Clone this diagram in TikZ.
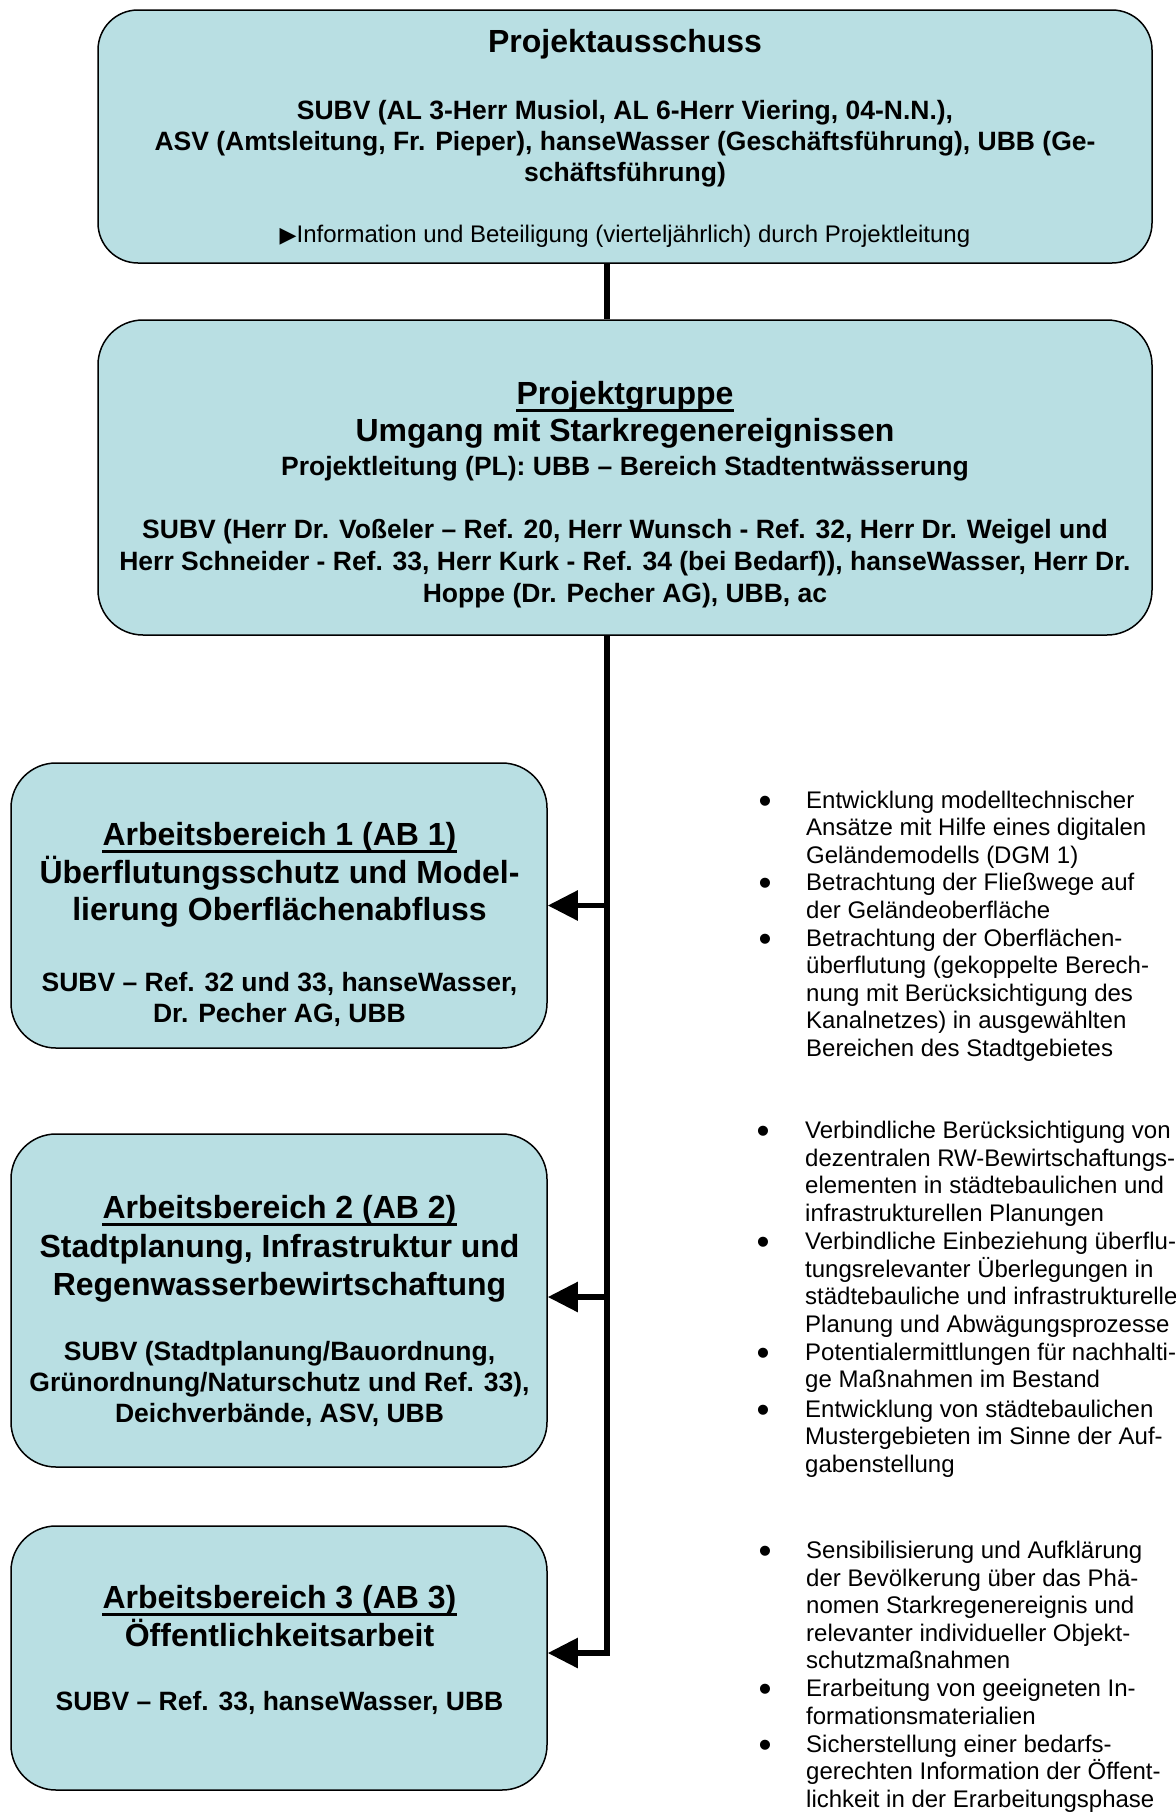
\documentclass[tikz,border=0pt]{standalone}
\usepackage{fontspec}
\setmainfont{Liberation Sans}
\newfontfamily\dvfont{DejaVu Sans}
\usetikzlibrary{arrows.meta}
\definecolor{boxfill}{RGB}{185,223,227}
\tikzset{
  box/.style={draw=black, line width=1.5pt, fill=boxfill, rounded corners=45pt, inner sep=0pt, rectangle},
  ttl/.style={inner sep=0pt, anchor=base, font=\fontsize{32}{38}\selectfont\bfseries},
  bod/.style={inner sep=0pt, anchor=base, font=\fontsize{26.5}{31}\selectfont\bfseries},
  inf/.style={inner sep=0pt, anchor=base, font=\fontsize{24}{28}\selectfont},
  itm/.style={inner sep=0pt, anchor=base west, font=\fontsize{24}{27.6}\selectfont},
  bul/.style={inner sep=0pt, anchor=base, yshift=-5pt, font=\fontsize{37}{40}\selectfont},
  ulin/.style={line width=3pt},
  conn/.style={line width=5.5pt, line join=miter},
  arr/.style={conn, -{Triangle[length=30pt,width=29pt]}}
}
\begin{document}
\begin{tikzpicture}[x=1pt,y=-1pt]
\clip (0,0) rectangle (1175,1812);
\fill[white] (0,0) rectangle (1175,1812);
\coordinate (spx) at (607,0);

% boxes
\node[box, rounded corners=40pt, minimum width=1054pt, minimum height=253pt] (pa) at (625,136.5) {};
\node[box, minimum width=1054pt, minimum height=315pt] (pg) at (625,477.5) {};
\node[box, minimum width=536pt, minimum height=285pt] (ab1) at (279,905.5) {};
\node[box, minimum width=536pt, minimum height=333pt] (ab2) at (279,1300.5) {};
\node[box, minimum width=536pt, minimum height=264pt] (ab3) at (279,1658) {};

% connectors
\coordinate (e2) at ([yshift=3.5pt]ab2.east);
\coordinate (e3) at ([yshift=5pt]ab3.east);
\draw[conn] (pa.south -| spx) -- (pg.north -| spx);
\draw[arr] (pg.south -| spx) |- (e3);
\draw[arr] (ab1.east -| spx) -- (ab1.east);
\draw[arr] (e2 -| spx) -- (e2);

% Projektausschuss
\node[ttl] (paT) at (625,52.5) {Projektausschuss};
\node[bod] (paA) at (625,119) {SUBV (AL 3-Herr Musiol, AL 6-Herr Viering, 04-N.N.),};
\node[bod] (paB) at (625,150) {ASV (Amtsleitung, Fr. Pieper), hanseWasser (Geschäftsführung), UBB (Ge-};
\node[bod] (paC) at (625,181.5) {schäftsführung)};
\node[inf] (paD) at (625,242.5) {{\dvfont\fontsize{22}{28}\selectfont ▶}Information und Beteiligung (vierteljährlich) durch Projektleitung};

% Projektgruppe
\node[ttl] (pgT) at (625,404) {Projektgruppe};
\draw[ulin] ([yshift=-6pt]pgT.base west) -- ([yshift=-6pt]pgT.base east);
\node[ttl] (pgU) at (625,441.5) {Umgang mit Starkregenereignissen};
\node[bod] (pgL) at (625,475.5) {Projektleitung (PL): UBB – Bereich Stadtentwässerung};
\node[bod] (pgA) at (625,538.5) {SUBV (Herr Dr. Voßeler – Ref. 20, Herr Wunsch - Ref. 32, Herr Dr. Weigel und};
\node[bod] (pgB) at (625,570.5) {Herr Schneider - Ref. 33, Herr Kurk - Ref. 34 (bei Bedarf)), hanseWasser, Herr Dr.};
\node[bod] (pgC) at (625,602) {Hoppe (Dr. Pecher AG), UBB, ac};

% AB 1
\node[ttl] (a1T) at (279.5,845) {Arbeitsbereich 1 (AB 1)};
\draw[ulin] ([yshift=-6pt]a1T.base west) -- ([yshift=-6pt]a1T.base east);
\node[ttl] (a1U) at (279.5,883) {Überflutungsschutz und Model-};
\node[ttl] (a1V) at (279.5,920.5) {lierung Oberflächenabfluss};
\node[bod] (a1A) at (279.5,991) {SUBV – Ref. 32 und 33, hanseWasser,};
\node[bod] (a1B) at (279.5,1022.5) {Dr. Pecher AG, UBB};

% AB 2
\node[ttl] (a2T) at (279.5,1218) {Arbeitsbereich 2 (AB 2)};
\draw[ulin] ([yshift=-6pt]a2T.base west) -- ([yshift=-6pt]a2T.base east);
\node[ttl] (a2U) at (279.5,1257) {Stadtplanung, Infrastruktur und};
\node[ttl] (a2V) at (279.5,1295) {Regenwasserbewirtschaftung};
\node[bod] (a2A) at (279.5,1360) {SUBV (Stadtplanung/Bauordnung,};
\node[bod] (a2B) at (279.5,1391) {Grünordnung/Naturschutz und Ref. 33),};
\node[bod] (a2C) at (279.5,1422) {Deichverbände, ASV, UBB};

% AB 3
\node[ttl] (a3T) at (279.5,1608.5) {Arbeitsbereich 3 (AB 3)};
\draw[ulin] ([yshift=-6pt]a3T.base west) -- ([yshift=-6pt]a3T.base east);
\node[ttl] (a3U) at (279.5,1646) {Öffentlichkeitsarbeit};
\node[bod] (a3A) at (279.5,1710.5) {SUBV – Ref. 33, hanseWasser, UBB};

% bullet list 1
\foreach \yy [count=\i] in {808,890.8,946} \node[bul] (ba\i) at (765,\yy) {•};
\foreach \yy/\txt [count=\i] in {
  808/{Entwicklung modelltechnischer},
  835.6/{Ansätze mit Hilfe eines digitalen},
  863.2/{Geländemodells (DGM 1)},
  890.8/{Betrachtung der Fließwege auf},
  918.4/{der Geländeoberfläche},
  946/{Betrachtung der Oberflächen-},
  973.6/{überflutung (gekoppelte Berech-},
  1001.2/{nung mit Berücksichtigung des},
  1028.8/{Kanalnetzes) in ausgewählten},
  1056.4/{Bereichen des Stadtgebietes}}
  \node[itm] (la\i) at (806,\yy) {\txt};

% bullet list 2
\foreach \yy [count=\i] in {1138.5,1249.3,1360.1,1417} \node[bul] (bb\i) at (763,\yy) {•};
\foreach \yy/\txt [count=\i] in {
  1138.5/{Verbindliche Berücksichtigung von},
  1166.2/{dezentralen RW-Bewirtschaftungs-},
  1193.9/{elementen in städtebaulichen und},
  1221.6/{infrastrukturellen Planungen},
  1249.3/{Verbindliche Einbeziehung überflu-},
  1277/{tungsrelevanter Überlegungen in},
  1304.7/{städtebauliche und infrastrukturelle},
  1332.4/{Planung und Abwägungsprozesse},
  1360.1/{Potentialermittlungen für nachhalti-},
  1387.8/{ge Maßnahmen im Bestand},
  1417/{Entwicklung von städtebaulichen},
  1444.7/{Mustergebieten im Sinne der Auf-},
  1472.4/{gabenstellung}}
  \node[itm] (lb\i) at (805,\yy) {\txt};

% bullet list 3
\foreach \yy [count=\i] in {1558.5,1696.4,1752} \node[bul] (bc\i) at (765,\yy) {•};
\foreach \yy/\txt [count=\i] in {
  1558.5/{Sensibilisierung und Aufklärung},
  1586/{der Bevölkerung über das Phä-},
  1613.6/{nomen Starkregenereignis und},
  1641.2/{relevanter individueller Objekt-},
  1668.8/{schutzmaßnahmen},
  1696.4/{Erarbeitung von geeigneten In-},
  1724/{formationsmaterialien},
  1752/{Sicherstellung einer bedarfs-},
  1779.6/{gerechten Information der Öffent-},
  1807.2/{lichkeit in der Erarbeitungsphase}}
  \node[itm] (lc\i) at (806,\yy) {\txt};
\end{tikzpicture}
\end{document}
